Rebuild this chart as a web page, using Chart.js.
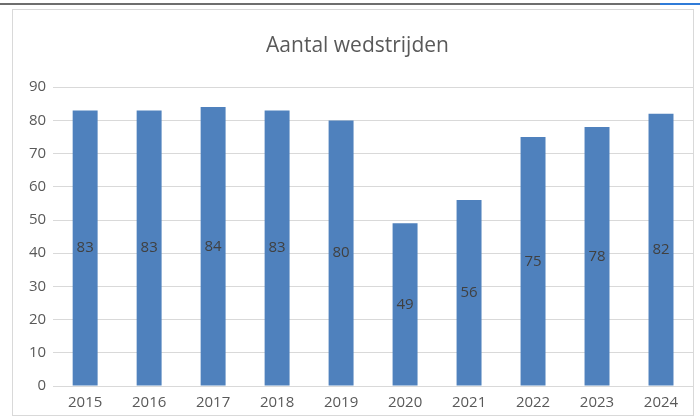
<!DOCTYPE html>
<html>
<head>
<meta charset="utf-8">
<script src="https://cdn.jsdelivr.net/npm/chart.js@4.4.1/dist/chart.umd.min.js"></script>
<style>
  html, body { margin: 0; padding: 0; background: #fff; }
  #wrap { position: relative; width: 700px; height: 420px; overflow: hidden; }
  #topline { position: absolute; left: 0; top: 3px; width: 660px; height: 2px; background: #6e6e6e; }
  #topblue { position: absolute; left: 660px; top: 3px; width: 40px; height: 2px; background: #2f7bd8; }
  #box { position: absolute; left: 12px; top: 9px; width: 680px; height: 405px; border: 1px solid #d9d9d9; background: #fff; }
  #chart { position: absolute; left: 0; top: 0; }
</style>
</head>
<body>
<div id="wrap">
  <div id="topline"></div>
  <div id="topblue"></div>
  <div id="box"></div>
  <canvas id="chart" width="700" height="420"></canvas>
</div>
<script>
var years = ["2015", "2016", "2017", "2018", "2019", "2020", "2021", "2022", "2023", "2024"];
var matches = [83, 83, 84, 83, 80, 49, 56, 75, 78, 82];

// waarde in het midden van elke staaf
var centerLabels = {
    id: 'centerLabels',
    afterDatasetsDraw: function (chart) {
        var ctx = chart.ctx;
        var meta = chart.getDatasetMeta(0);
        ctx.save();
        ctx.font = '15px "Open Sans"';
        ctx.fillStyle = '#404040';
        ctx.textAlign = 'center';
        ctx.textBaseline = 'middle';
        meta.data.forEach(function (bar, i) {
            ctx.fillText(matches[i], bar.x, (bar.y + bar.base) / 2);
        });
        ctx.restore();
    }
};

new Chart(document.getElementById("chart").getContext("2d"), {
    type: 'bar',
    data: {
        labels: years,
        datasets: [{
            label: "Aantal wedstrijden",
            data: matches,
            backgroundColor: '#4f81bd',
            borderWidth: 0,
            barPercentage: 0.39,
            categoryPercentage: 1.0
        }]
    },
    options: {
        responsive: false,
        animation: false,
        layout: { padding: { left: 22, right: 7, top: 33, bottom: 8 } },
        plugins: {
            legend: { display: false },
            tooltip: { enabled: false },
            title: {
                display: true,
                text: 'Aantal wedstrijden',
                color: '#595959',
                font: { family: 'Open Sans', size: 21, weight: 'normal' },
                padding: { top: 0, bottom: 29 }
            }
        },
        scales: {
            x: {
                grid: { display: false },
                border: { display: false },
                ticks: { color: '#595959', font: { family: 'Open Sans', size: 15 }, padding: 0 }
            },
            y: {
                min: 0,
                max: 90,
                ticks: { stepSize: 10, color: '#595959', font: { family: 'Open Sans', size: 15 }, padding: 7 },
                grid: { color: '#d9d9d9', drawTicks: false },
                border: { display: false }
            }
        }
    },
    plugins: [centerLabels]
});
</script>
</body>
</html>
